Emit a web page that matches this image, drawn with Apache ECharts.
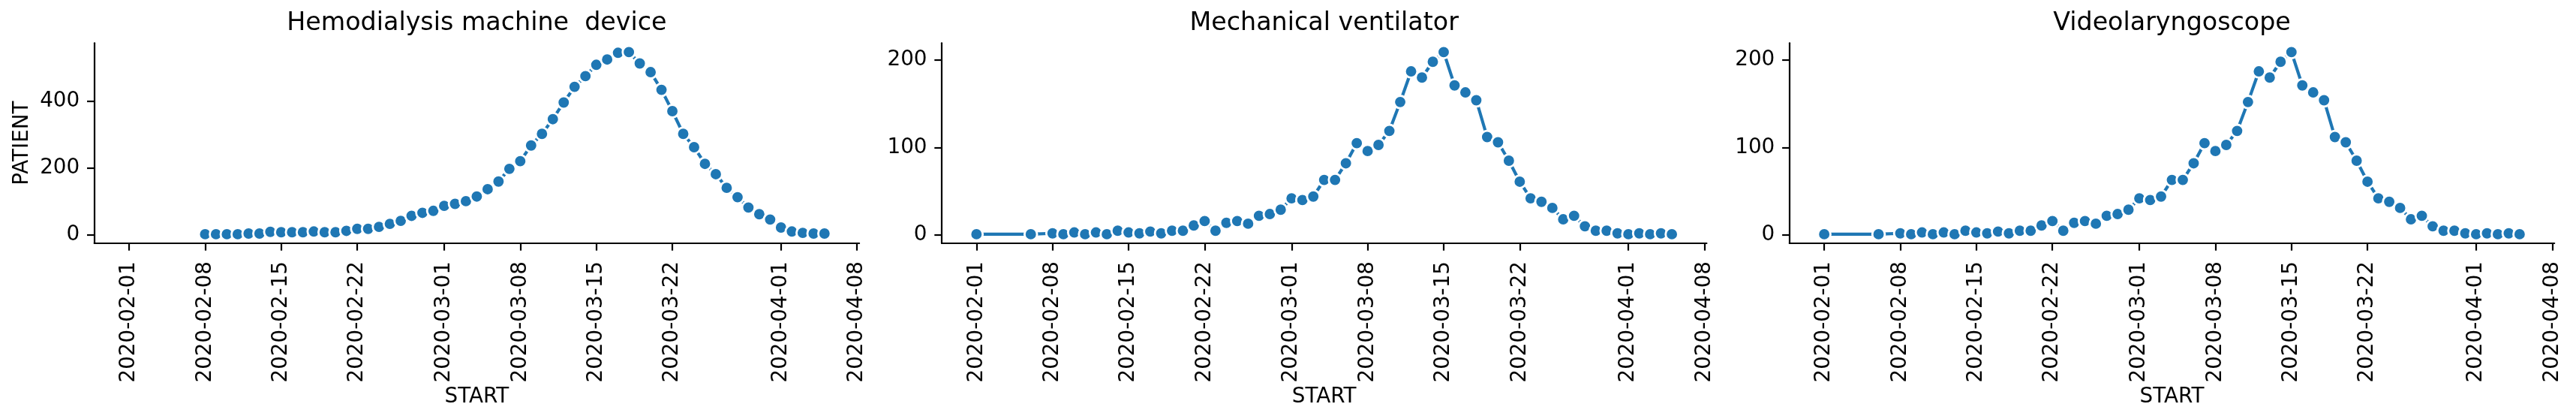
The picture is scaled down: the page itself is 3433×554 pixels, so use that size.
<!DOCTYPE html>
<html>
<head>
<meta charset="utf-8">
<script src="https://cdn.jsdelivr.net/npm/echarts@6/dist/echarts.min.js"></script>
<style>
html,body{margin:0;padding:0;background:#fff;}
#chart{width:3433px;height:554px;}
</style>
</head>
<body>
<div id="chart"></div>
<script>
// ---------- data ----------
const titles = ['Hemodialysis machine  device', 'Mechanical ventilator', 'Videolaryngoscope'];
const xLabelName = 'START';
const yLabelName = 'PATIENT';

const hemoDates = ['2020-02-08','2020-02-09','2020-02-10','2020-02-11','2020-02-12','2020-02-13','2020-02-14','2020-02-15','2020-02-16','2020-02-17','2020-02-18','2020-02-19','2020-02-20','2020-02-21','2020-02-22','2020-02-23','2020-02-24','2020-02-25','2020-02-26','2020-02-27','2020-02-28','2020-02-29',
'2020-03-01','2020-03-02','2020-03-03','2020-03-04','2020-03-05','2020-03-06','2020-03-07','2020-03-08','2020-03-09','2020-03-10','2020-03-11','2020-03-12','2020-03-13','2020-03-14','2020-03-15','2020-03-16','2020-03-17','2020-03-18','2020-03-19','2020-03-20','2020-03-21','2020-03-22','2020-03-23','2020-03-24','2020-03-25','2020-03-26','2020-03-27','2020-03-28','2020-03-29','2020-03-30','2020-03-31',
'2020-04-01','2020-04-02','2020-04-03','2020-04-04','2020-04-05'];
const hemoPatients = [2,2,2,2,4,4,9,8,8,8,10,8,8,12,18,18,24,33,42,57,66,72,
87,93,101,115,137,160,198,221,268,303,347,397,444,476,510,526,546,548,514,488,435,371,303,263,213,182,141,113,82,62,46,
22,10,6,4,4];

const ventDates = ['2020-02-01','2020-02-06','2020-02-08','2020-02-09','2020-02-10','2020-02-11','2020-02-12','2020-02-13','2020-02-14','2020-02-15','2020-02-16','2020-02-17','2020-02-18','2020-02-19','2020-02-20','2020-02-21','2020-02-22','2020-02-23','2020-02-24','2020-02-25','2020-02-26','2020-02-27','2020-02-28','2020-02-29',
'2020-03-01','2020-03-02','2020-03-03','2020-03-04','2020-03-05','2020-03-06','2020-03-07','2020-03-08','2020-03-09','2020-03-10','2020-03-11','2020-03-12','2020-03-13','2020-03-14','2020-03-15','2020-03-16','2020-03-17','2020-03-18','2020-03-19','2020-03-20','2020-03-21','2020-03-22','2020-03-23','2020-03-24','2020-03-25','2020-03-26','2020-03-27','2020-03-28','2020-03-29','2020-03-30','2020-03-31',
'2020-04-01','2020-04-02','2020-04-03','2020-04-04','2020-04-05'];
const ventPatients = [1,1,2,1,3,1,3,1,5,3,2,4,2,5,5,11,16,5,14,16,13,22,24,29,
42,40,44,63,63,82,105,96,103,119,152,187,180,198,209,171,163,154,112,106,85,61,42,38,31,18,22,10,5,5,2,
1,2,1,2,1];

const videoDates = ['2020-02-01','2020-02-06','2020-02-08','2020-02-09','2020-02-10','2020-02-11','2020-02-12','2020-02-13','2020-02-14','2020-02-15','2020-02-16','2020-02-17','2020-02-18','2020-02-19','2020-02-20','2020-02-21','2020-02-22','2020-02-23','2020-02-24','2020-02-25','2020-02-26','2020-02-27','2020-02-28','2020-02-29',
'2020-03-01','2020-03-02','2020-03-03','2020-03-04','2020-03-05','2020-03-06','2020-03-07','2020-03-08','2020-03-09','2020-03-10','2020-03-11','2020-03-12','2020-03-13','2020-03-14','2020-03-15','2020-03-16','2020-03-17','2020-03-18','2020-03-19','2020-03-20','2020-03-21','2020-03-22','2020-03-23','2020-03-24','2020-03-25','2020-03-26','2020-03-27','2020-03-28','2020-03-29','2020-03-30','2020-03-31',
'2020-04-01','2020-04-02','2020-04-03','2020-04-04','2020-04-05'];
const videoPatients = [1,1,2,1,3,1,3,1,5,3,2,4,2,5,5,11,16,5,14,16,13,22,24,29,
42,40,44,63,63,82,105,96,103,119,152,187,180,198,209,171,163,154,112,106,85,61,42,38,31,18,22,10,5,5,2,
1,2,1,2,1];

const xTickDates = ['2020-02-01','2020-02-08','2020-02-15','2020-02-22','2020-03-01','2020-03-08','2020-03-15','2020-03-22','2020-04-01','2020-04-08'];
const hemoYTicks = [0, 200, 400];
const ventYTicks = [0, 100, 200];
const videoYTicks = [0, 100, 200];

// ---------- build ----------
const FONT = 'DejaVu Sans';
const BLUE = '#1f77b4';
function ts(s){ const p = s.split('-').map(Number); return Date.UTC(p[0], p[1]-1, p[2]); }
function fmt(v){ const d = new Date(v); const m = d.getUTCMonth()+1, dd = d.getUTCDate();
  return d.getUTCFullYear() + '-' + (m<10?'0':'') + m + '-' + (dd<10?'0':'') + dd; }

const panels = [
  {title: titles[0], dates: hemoDates, vals: hemoPatients, yTicks: hemoYTicks, ylabel: yLabelName},
  {title: titles[1], dates: ventDates, vals: ventPatients, yTicks: ventYTicks, ylabel: ''},
  {title: titles[2], dates: videoDates, vals: videoPatients, yTicks: videoYTicks, ylabel: ''}
];

// shared x range (5% margins over all data)
let allT = [];
panels.forEach(p => p.dates.forEach(d => allT.push(ts(d))));
const tMin = Math.min.apply(null, allT), tMax = Math.max.apply(null, allT);
const tPad = (tMax - tMin) * 0.05;
const xTicks = xTickDates.map(ts);

const gridLefts = [125.7, 1255, 2384.8];
const gridWidth = 1019.4;
const gridTop = 57.3, gridBottom = 554 - 324;

const option = {
  animation: false,
  backgroundColor: '#fff',
  title: [], grid: [], xAxis: [], yAxis: [], series: []
};

panels.forEach((p, i) => {
  const vMin = Math.min.apply(null, p.vals), vMax = Math.max.apply(null, p.vals);
  const vPad = (vMax - vMin) * 0.05;
  option.title.push({
    text: p.title, left: gridLefts[i] + gridWidth/2, top: 15, textAlign: 'center', padding: 0,
    textStyle: {fontFamily: FONT, fontSize: 33.3, fontWeight: 'normal', color: '#000'}
  });
  option.grid.push({
    left: gridLefts[i], width: gridWidth, top: gridTop, bottom: gridBottom,
    containLabel: false, outerBoundsMode: 'none', show: false
  });
  option.xAxis.push({
    type: 'value', gridIndex: i, min: tMin - tPad, max: tMax + tPad, scale: true,
    name: xLabelName, nameLocation: 'middle', nameGap: 191,
    nameTextStyle: {fontFamily: FONT, fontSize: 27.8, color: '#000'},
    axisLine: {show: true, onZero: false, lineStyle: {color: '#000', width: 2.2}},
    axisTick: {show: true, customValues: xTicks, length: 9.7, lineStyle: {color: '#000', width: 2.2}},
    axisLabel: {show: true, customValues: xTicks, rotate: 90, margin: 24, formatter: fmt,
      fontFamily: FONT, fontSize: 27.8, color: '#000', hideOverlap: false},
    splitLine: {show: false}, minorTick: {show: false}
  });
  option.yAxis.push({
    type: 'value', gridIndex: i, min: vMin - vPad, max: vMax + vPad, scale: true,
    name: p.ylabel, nameLocation: 'middle', nameGap: 82,
    nameTextStyle: {fontFamily: FONT, fontSize: 27.8, color: '#000'},
    axisLine: {show: true, onZero: false, lineStyle: {color: '#000', width: 2.2}},
    axisTick: {show: true, customValues: p.yTicks, length: 9.7, lineStyle: {color: '#000', width: 2.2}},
    axisLabel: {show: true, customValues: p.yTicks, margin: 19.5, formatter: v => String(v),
      fontFamily: FONT, fontSize: 27.8, color: '#000'},
    splitLine: {show: false}
  });
  option.series.push({
    type: 'line', xAxisIndex: i, yAxisIndex: i,
    data: p.dates.map((d, k) => [ts(d), p.vals[k]]),
    symbol: 'circle', symbolSize: 16.7, showSymbol: true, showAllSymbol: true,
    itemStyle: {color: BLUE, borderColor: '#fff', borderWidth: 2.8},
    lineStyle: {color: BLUE, width: 4.17},
    emphasis: {disabled: true}, silent: true, clip: false
  });
});

const chart = echarts.init(document.getElementById('chart'), null, {renderer: 'canvas', devicePixelRatio: 1});
chart.setOption(option);
</script>
</body>
</html>
